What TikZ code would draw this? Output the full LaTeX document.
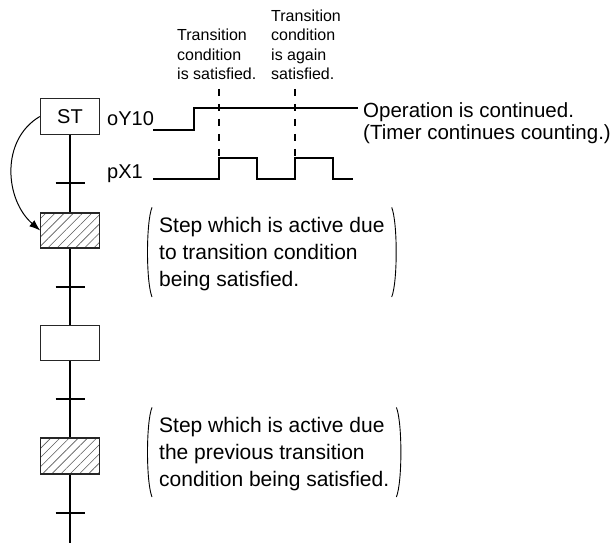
\documentclass[tikz,border=0pt]{standalone}
\usepackage{fontspec}
\setmainfont{Liberation Sans}
\usetikzlibrary{arrows.meta,patterns.meta}

\begin{document}
\begin{tikzpicture}[x=1bp,y=-1bp,
  stepbox/.style={draw=black!85, line width=1.3bp, minimum width=59bp, minimum height=35.5bp, inner sep=0pt},
  activebox/.style={stepbox, line width=1.7bp, pattern={Lines[angle=45,distance=6.5bp,line width=0.6bp]}, pattern color=black!65},
  rung/.style={line width=2bp},
  wave/.style={line width=1.3bp},
  guide/.style={line width=2bp, dash pattern=on 7bp off 8bp},
  paren/.style={line width=0.9bp},
  sig/.style={font=\fontsize{20bp}{24bp}\selectfont, inner sep=0pt, anchor=base west},
  note/.style={font=\fontsize{16bp}{19.5bp}\selectfont, align=left, inner sep=0pt, text depth=0pt, anchor=south west},
  remark/.style={font=\fontsize{21bp}{27bp}\selectfont, align=left, inner xsep=7bp, inner ysep=10bp, text depth=0pt, anchor=south west}]
\useasboundingbox (0,0) rectangle (614,544);

\node[stepbox, font=\fontsize{20bp}{24bp}\selectfont] (st) at (70,116.5) {ST};
\node[activebox] (stepA) at (70,230.5) {};
\node[stepbox] (stepB) at (70,343) {};
\node[activebox] (stepC) at (70,456) {};
\coordinate (t1) at (70,183);
\coordinate (t2) at (70,287);
\coordinate (t3) at (70,399);
\coordinate (t4) at (70,513);
\coordinate (bottom) at (70,543);

\draw[rung] (st.south) -- (stepA.north);
\draw[rung] (stepA.south) -- (stepB.north);
\draw[rung] (stepB.south) -- (stepC.north);
\draw[rung] (stepC.south) -- (bottom);
\draw[rung] ([xshift=-14.5bp]t1) -- ([xshift=14.5bp]t1);
\draw[rung] ([xshift=-14.5bp]t2) -- ([xshift=14.5bp]t2);
\draw[rung] ([xshift=-14.5bp]t3) -- ([xshift=14.5bp]t3);
\draw[rung] ([xshift=-14.5bp]t4) -- ([xshift=14.5bp]t4);
\draw[-{Latex[length=11bp,width=8bp]}, line width=1bp] (st.west) .. controls (0,140) and (5,200) .. (stepA.west);

\node[sig] (oy) at (107,126) {oY10};
\node[sig] (px) at (107,179) {pX1};
\draw[wave] (153,130) -- (194,130) -- (194,108) -- (358,108);
\draw[wave] (153,179) -- (219,179) -- (219,158) -- (257,158) -- (257,179) -- (295,179) -- (295,158) -- (333,158) -- (333,179) -- (353,179);
\draw[guide] (219,89) -- (219,158);
\draw[guide] (295,89) -- (295,158);

\node[note] (first) at (177,80) {Transition\\condition\\is satisfied.};
\node[note] (again) at (271,80) {Transition\\condition\\is again\\satisfied.};
\node[font=\fontsize{20.5bp}{22bp}\selectfont, align=left, inner sep=0pt, text depth=0pt, anchor=south west] (cont) at (363,140) {Operation is continued.\\(Timer continues counting.)};

\node[remark] (remA) at (152,297) {Step which is active due\\to transition condition\\being satisfied.};
\node[remark] (remC) at (152,497) {Step which is active due\\the previous transition\\condition being satisfied.};
\draw[paren] (remA.north west) .. controls +(-6,15) and +(-6,-15) .. (remA.south west);
\draw[paren] (remA.north east) .. controls +(6,15) and +(6,-15) .. (remA.south east);
\draw[paren] (remC.north west) .. controls +(-6,15) and +(-6,-15) .. (remC.south west);
\draw[paren] (remC.north east) .. controls +(6,15) and +(6,-15) .. (remC.south east);
\end{tikzpicture}
\end{document}
